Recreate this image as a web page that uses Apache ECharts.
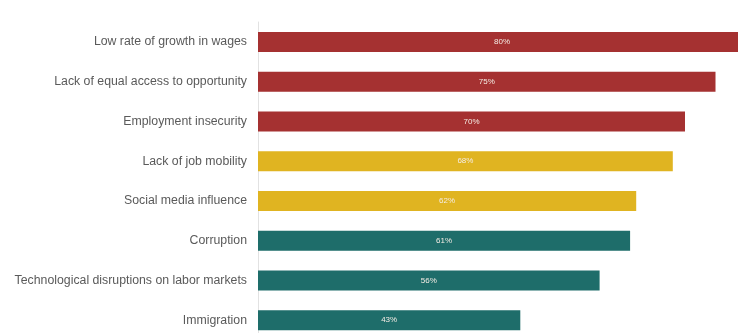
<!DOCTYPE html>
<html>
<head>
<meta charset="utf-8">
<script src="https://cdn.jsdelivr.net/npm/echarts@6/dist/echarts.min.js"></script>
<style>
  html, body { margin: 0; padding: 0; background: #ffffff; overflow: hidden; }
  /* canvas is a bit larger than the window; the longest bar and the last row run off the edge */
  #chart { width: 746px; height: 340px; }
</style>
</head>
<body>
<div id="chart"></div>
<script>
// Concerns, top to bottom
const categories = [
  'Low rate of growth in wages',
  'Lack of equal access to opportunity',
  'Employment insecurity',
  'Lack of job mobility',
  'Social media influence',
  'Corruption',
  'Technological disruptions on labor markets',
  'Immigration'
];
// Share of respondents, percent
const values = [80, 75, 70, 68, 62, 61, 56, 43];
// Colour group of each bar
const groups = ['high', 'high', 'high', 'mid', 'mid', 'low', 'low', 'low'];

const groupColors = { high: '#a53131', mid: '#e0b421', low: '#1e6d6a' };

const chart = echarts.init(document.getElementById('chart'), null, { renderer: 'canvas' });

chart.setOption({
  animation: false,
  grid: { left: 258, top: 22, right: 0, bottom: 0, containLabel: false },
  xAxis: {
    type: 'value',
    min: 0,
    max: 80,
    show: false
  },
  yAxis: {
    type: 'category',
    data: categories,
    inverse: true,
    axisLine: { show: true, lineStyle: { color: '#e2e2e2', width: 1 } },
    axisTick: { show: false },
    axisLabel: {
      color: '#5a5a5a',
      fontFamily: 'Liberation Sans, Arial, sans-serif',
      fontSize: 12.3,
      margin: 11
    }
  },
  series: [{
    type: 'bar',
    barWidth: 20,
    clip: true,
    data: values.map((v, i) => ({
      value: v,
      itemStyle: { color: groupColors[groups[i]] }
    })),
    label: {
      show: true,
      position: 'inside',
      formatter: '{c}%',
      color: '#f4ece4',
      fontFamily: 'Liberation Sans, Arial, sans-serif',
      fontSize: 8
    }
  }]
});
</script>
</body>
</html>
